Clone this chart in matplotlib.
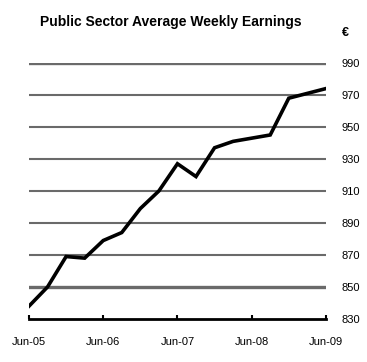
import matplotlib
matplotlib.use('Agg')
import matplotlib.pyplot as plt

plt.rcParams['font.family'] = ['Liberation Sans', 'DejaVu Sans']

# quarterly readings, Jun-05 .. Jun-09
quarters = ['Jun-05', 'Sep-05', 'Dec-05', 'Mar-06', 'Jun-06', 'Sep-06', 'Dec-06', 'Mar-07',
            'Jun-07', 'Sep-07', 'Dec-07', 'Mar-08', 'Jun-08', 'Sep-08', 'Dec-08', 'Mar-09', 'Jun-09']
earnings = [838, 850, 869, 868, 879, 884, 899, 910, 927, 919, 937, 941, 943, 945, 968, 971, 974]
tick_labels = ['Jun-05', 'Jun-06', 'Jun-07', 'Jun-08', 'Jun-09']
y_ticks = [830, 850, 870, 890, 910, 930, 950, 970, 990]

fig = plt.figure(figsize=(3.67, 3.62), dpi=100)
ax = fig.add_axes([0.079, 0.119, 0.809, 0.707])

x = list(range(len(quarters)))
for v in y_ticks[1:]:
    lw = 2.4 if v in (850, 990) else 1.5
    ax.axhline(v, color='#6a6a6a', lw=lw, zorder=1)

ax.plot(x, earnings, color='black', lw=2.6, solid_joinstyle='miter', zorder=3)

ax.set_xlim(0, len(quarters) - 1)
ax.set_ylim(830, 990)
ax.set_xticks([quarters.index(t) for t in tick_labels])
ax.set_xticklabels(tick_labels, fontsize=8)
ax.set_yticks(y_ticks)
ax.yaxis.tick_right()
ax.tick_params(axis='y', length=0, pad=11, labelsize=8)
ax.tick_params(axis='x', direction='in', length=3, width=1.5, pad=13)

for s in ['top', 'left', 'right']:
    ax.spines[s].set_visible(False)
ax.spines['bottom'].set_linewidth(2)
ax.spines['bottom'].set_zorder(4)

fig.text(0.466, 0.94, 'Public Sector Average Weekly Earnings', ha='center', va='center',
         fontsize=10, fontweight='bold')
fig.text(0.94, 0.91, '€', ha='center', va='center', fontsize=9, fontweight='bold')

fig.savefig('out.png', dpi=100)
